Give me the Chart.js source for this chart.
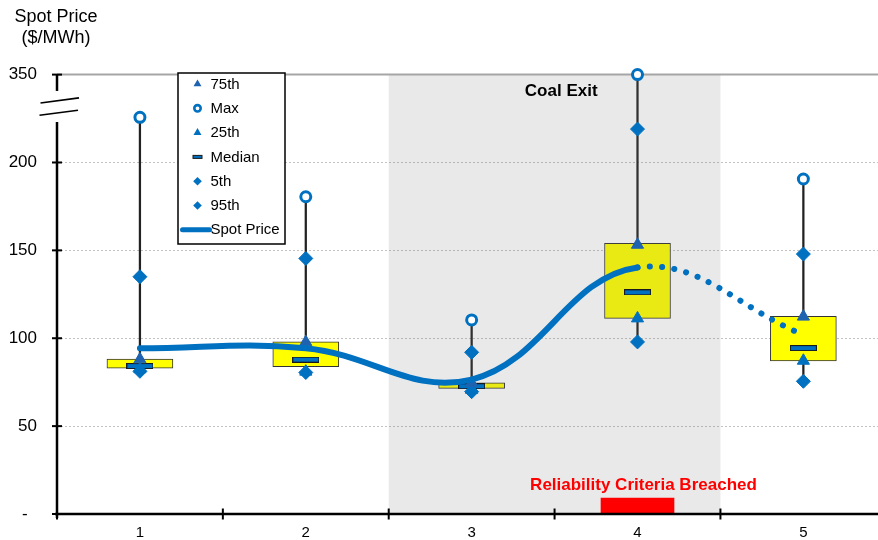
<!DOCTYPE html>
<html>
<head>
<meta charset="utf-8">
<script src="https://cdn.jsdelivr.net/npm/chart.js@4.4.1/dist/chart.umd.min.js"></script>
<style>
  html, body { margin: 0; padding: 0; background: #fff; }
  canvas { display: block; }
</style>
</head>
<body>
<canvas id="chart" width="878" height="540"></canvas>
<script>
// ---- data ($/MWh) ----
const categories = ['1', '2', '3', '4', '5'];
const spotPrice  = [94.3, 94.3, 76.5, 140.3, 102.0];
const maxPrice   = [277, 180.5, 110.4, 350, 190.6];
const p95        = [135.0, 145.4, 92.0, 257, 147.9];
const p75        = [88.0, 97.8, 74.6, 153.2, 112.3];
const median     = [84.2, 87.8, 72.7, 126.1, 94.4];
const p25        = [82.4, 81.0, 70.6, 111.3, 87.2];
const p5         = [81.2, 80.5, 69.6, 97.9, 75.5];
const boxLow     = [82.9, 83.8, 71.5, 111.3, 87.1];
const boxHigh    = [88.2, 98.0, 74.7, 154.0, 112.5];
const yTickValues = [0, 50, 100, 150, 200, 350];
const yTickLabels = ['-  ', '50', '100', '150', '200', '350'];
const coalExitCategories = [3, 4];
const breachCategory = 4;
const breachLevel = 9;

// ---- broken value axis: everything above 200 is compressed 3:1 ----
const BREAK_FROM = 200, BREAK_RATIO = 3;
const toAxis = v => v <= BREAK_FROM ? v : BREAK_FROM + (v - BREAK_FROM) / BREAK_RATIO;
const pts = arr => arr.map((v, i) => ({ x: i + 1, y: toAxis(v) }));
const spans = (lo, hi) => lo.map((v, i) => ({ x: i + 1, y: [toAxis(v), toAxis(hi[i])] }));

const FONT = '"Liberation Sans", Arial, sans-serif';
const BLUE = '#0070C0';
const BLUE_DARK = '#1F63B0';

function medianMark(w, h) {
  const c = document.createElement('canvas');
  c.width = w; c.height = h;
  const g = c.getContext('2d');
  g.fillStyle = BLUE; g.fillRect(0, 0, w, h);
  g.strokeStyle = '#1a1a1a'; g.lineWidth = 1; g.strokeRect(0.5, 0.5, w - 1, h - 1);
  return c;
}

const markerSet = (label, data, style, radius, fill, stroke, bw, order) => ({
  type: 'line', label, data, showLine: false, order, clip: false,
  pointStyle: style, pointRadius: radius, pointBackgroundColor: fill,
  pointBorderColor: stroke, pointBorderWidth: bw
});

const datasets = [
  { type: 'bar', label: 'whisker', data: spans(p5, maxPrice), grouped: false, barThickness: 1.6,
    backgroundColor: '#222', borderWidth: 0, order: 9, clip: false },
  { type: 'bar', label: 'box', data: spans(boxLow, boxHigh), grouped: false, barThickness: 66,
    backgroundColor: '#FFFF00', borderColor: '#333', borderWidth: 1, borderSkipped: false, order: 8, clip: false },
  markerSet('Median', pts(median), medianMark(27, 6), 5, BLUE, BLUE, 0, 7),
  markerSet('5th', pts(p5), 'rectRot', 7, BLUE, BLUE, 1, 6),
  markerSet('25th', pts(p25), 'triangle', 7, BLUE, BLUE, 1, 5),
  markerSet('75th', pts(p75), 'triangle', 7, BLUE_DARK, BLUE_DARK, 1, 4),
  markerSet('95th', pts(p95), 'rectRot', 7, BLUE, BLUE, 1, 3),
  markerSet('Max', pts(maxPrice), 'circle', 5, '#fff', BLUE, 3, 2),
  { type: 'bar', label: 'breach', data: [{ x: breachCategory, y: [0, breachLevel] }], grouped: false,
    barThickness: 73, backgroundColor: '#FF0000', borderWidth: 0, order: 1, clip: false },
  { type: 'line', label: 'Spot Price', data: pts(spotPrice), borderColor: BLUE, borderWidth: 6,
    borderCapStyle: 'round', borderJoinStyle: 'round', tension: 0.4, pointRadius: 0, order: 0, clip: false,
    segment: { borderDash: ctx => ctx.p0DataIndex >= 3 ? [0.1, 12.2] : undefined } }
];

const legendOrder = ['75th', 'Max', '25th', 'Median', '5th', '95th', 'Spot Price'];

function drawLegendMarker(ctx, label, cx, cy) {
  ctx.save();
  if (label === '75th' || label === '25th') {
    const r = 4.6;
    ctx.fillStyle = label === '75th' ? BLUE_DARK : BLUE;
    ctx.beginPath();
    ctx.moveTo(cx, cy - r);
    ctx.lineTo(cx + r * 0.866, cy + r / 2);
    ctx.lineTo(cx - r * 0.866, cy + r / 2);
    ctx.closePath(); ctx.fill();
  } else if (label === 'Max') {
    ctx.strokeStyle = BLUE; ctx.lineWidth = 2.6; ctx.fillStyle = '#fff';
    ctx.beginPath(); ctx.arc(cx, cy, 3.2, 0, Math.PI * 2); ctx.fill(); ctx.stroke();
  } else if (label === 'Median') {
    ctx.fillStyle = BLUE; ctx.fillRect(cx - 4.5, cy - 1.5, 9, 3);
    ctx.strokeStyle = '#1a1a1a'; ctx.lineWidth = 1; ctx.strokeRect(cx - 4.5, cy - 1.5, 9, 3);
  } else if (label === '5th' || label === '95th') {
    const r = 4.3;
    ctx.fillStyle = BLUE;
    ctx.beginPath();
    ctx.moveTo(cx, cy - r); ctx.lineTo(cx + r, cy); ctx.lineTo(cx, cy + r); ctx.lineTo(cx - r, cy);
    ctx.closePath(); ctx.fill();
  } else {
    ctx.strokeStyle = BLUE; ctx.lineWidth = 5; ctx.lineCap = 'round';
    ctx.beginPath(); ctx.moveTo(cx - 15, cy); ctx.lineTo(cx + 12, cy); ctx.stroke();
  }
  ctx.restore();
}

const frame = {
  id: 'frame',
  beforeDatasetsDraw(chart) {
    const { ctx, chartArea: a, scales: { y } } = chart;
    ctx.save();
    // dotted gridlines
    ctx.strokeStyle = '#c2c2c2'; ctx.lineWidth = 1; ctx.setLineDash([2, 2]);
    yTickValues.slice(1, -1).forEach(v => {
      const py = Math.round(y.getPixelForValue(toAxis(v))) + 0.5;
      ctx.beginPath(); ctx.moveTo(a.left, py); ctx.lineTo(a.right, py); ctx.stroke();
    });
    ctx.restore();
  },
  afterDatasetDraw(chart, args) {
    if (chart.data.datasets[args.index].label !== 'box') return;
    const { ctx, chartArea: a, scales: { x, y } } = chart;
    // shaded coal exit period
    const l = x.getPixelForValue(coalExitCategories[0] - 0.5);
    const r = x.getPixelForValue(coalExitCategories[1] + 0.5);
    const t = y.getPixelForValue(toAxis(350));
    const b = y.getPixelForValue(0);
    ctx.save();
    ctx.fillStyle = 'rgba(121,121,121,0.165)';
    ctx.fillRect(l, t, r - l, b - t);
    // top limit line
    ctx.strokeStyle = '#a6a6a6'; ctx.lineWidth = 2;
    ctx.beginPath(); ctx.moveTo(a.left, t); ctx.lineTo(a.right, t); ctx.stroke();
    ctx.restore();
  },
  afterDatasetsDraw(chart) {
    const { ctx, chartArea: a, scales: { x, y } } = chart;
    ctx.save();
    // annotations
    ctx.textAlign = 'center'; ctx.textBaseline = 'alphabetic';
    ctx.font = 'bold 17px ' + FONT; ctx.fillStyle = '#000';
    ctx.fillText('Coal Exit', x.getPixelForValue(3.54), y.getPixelForValue(237.8));
    ctx.fillStyle = '#FF0000';
    ctx.fillText('Reliability Criteria Breached', x.getPixelForValue(4.036), y.getPixelForValue(13.4));

    // axis title
    ctx.fillStyle = '#000'; ctx.font = '18px ' + FONT;
    ctx.fillText('Spot Price', 56, 21.5);
    ctx.fillText('($/MWh)', 56, 42.5);

    // axes
    const x0 = a.left, yb = y.getPixelForValue(0);
    ctx.strokeStyle = '#000'; ctx.lineCap = 'butt';
    ctx.lineWidth = 2.5;
    ctx.beginPath(); ctx.moveTo(x0 - 2, yb); ctx.lineTo(a.right, yb); ctx.stroke();
    ctx.lineWidth = 2;
    for (let k = 0.5; k <= 5.5; k += 1) {
      const px = x.getPixelForValue(k);
      if (px > a.right) continue;
      ctx.beginPath(); ctx.moveTo(px, yb - 5.5); ctx.lineTo(px, yb + 5.5); ctx.stroke();
    }
    // value axis with break
    const gapLow = y.getPixelForValue(223), gapHigh = y.getPixelForValue(240.7);
    const top = y.getPixelForValue(toAxis(350));
    ctx.lineWidth = 2.5;
    ctx.beginPath(); ctx.moveTo(x0, yb + 4); ctx.lineTo(x0, gapLow); ctx.stroke();
    ctx.beginPath(); ctx.moveTo(x0, gapHigh); ctx.lineTo(x0, top); ctx.stroke();
    ctx.lineWidth = 2;
    yTickValues.forEach(v => {
      const py = y.getPixelForValue(toAxis(v));
      ctx.beginPath(); ctx.moveTo(x0 - 5, py); ctx.lineTo(x0 + 5, py); ctx.stroke();
    });
    // break marks
    const gm = (gapLow + gapHigh) / 2;
    ctx.lineWidth = 1.6;
    ctx.beginPath(); ctx.moveTo(x0 - 16.5, gm - 3.5); ctx.lineTo(x0 + 22, gm - 8.6); ctx.stroke();
    ctx.beginPath(); ctx.moveTo(x0 - 17.5, gm + 8.8); ctx.lineTo(x0 + 21, gm + 3.7); ctx.stroke();

    // legend
    const lx = 178, ly = 73, lw = 107, lh = 171, rowH = 24.3, firstRow = 84;
    ctx.fillStyle = '#fff'; ctx.fillRect(lx, ly, lw, lh);
    ctx.strokeStyle = '#000'; ctx.lineWidth = 1.5; ctx.strokeRect(lx, ly, lw, lh);
    ctx.font = '15px ' + FONT; ctx.textAlign = 'left'; ctx.textBaseline = 'middle'; ctx.fillStyle = '#000';
    legendOrder.forEach((label, i) => {
      const cy = firstRow + i * rowH;
      drawLegendMarker(ctx, label, 197.5, cy);
      ctx.fillText(label, 210.5, cy + 0.5);
    });
    ctx.restore();
  }
};

new Chart(document.getElementById('chart'), {
  type: 'bar',
  data: { datasets },
  options: {
    responsive: false,
    animation: false,
    events: [],
    layout: { autoPadding: false, padding: { top: 74.6, left: 0, right: 0, bottom: 0 } },
    plugins: { legend: { display: false }, tooltip: { enabled: false }, title: { display: false } },
    scales: {
      x: {
        type: 'linear', min: 0.5, max: 5.45, offset: false,
        grid: { display: false, drawTicks: false }, border: { display: false },
        afterBuildTicks: s => { s.ticks = categories.map((_, i) => ({ value: i + 1 })); },
        afterFit: s => { s.height = 26; s.paddingLeft = 0; s.paddingRight = 0; },
        ticks: { padding: 10, color: '#000', font: { family: FONT, size: 15 },
                 autoSkip: false, maxRotation: 0, callback: (v, i) => categories[i] }
      },
      y: {
        type: 'linear', min: 0, max: toAxis(350),
        grid: { display: false, drawTicks: false }, border: { display: false },
        afterBuildTicks: s => { s.ticks = yTickValues.map(v => ({ value: toAxis(v) })); },
        afterFit: s => { s.width = 57; s.paddingTop = 0; s.paddingBottom = 0; },
        ticks: { padding: 20, color: '#000', font: { family: FONT, size: 17 },
                 callback: (v, i) => yTickLabels[i] }
      }
    }
  },
  plugins: [frame]
});
</script>
</body>
</html>
